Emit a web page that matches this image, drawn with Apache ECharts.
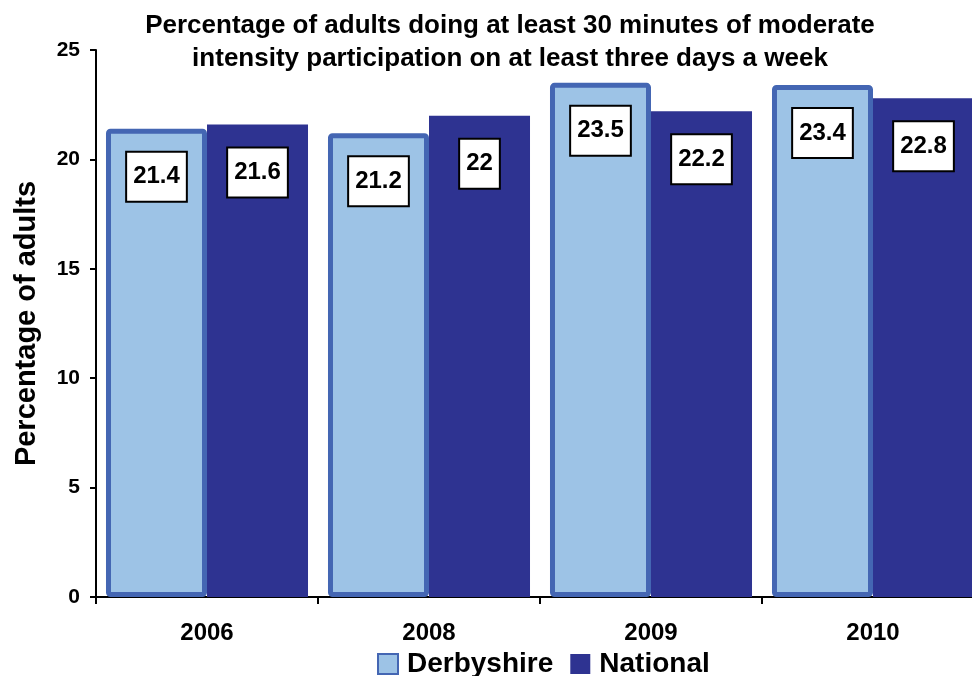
<!DOCTYPE html>
<html>
<head>
<meta charset="utf-8">
<script src="https://cdn.jsdelivr.net/npm/echarts@6/dist/echarts.min.js"></script>
<style>
  html, body { margin: 0; padding: 0; background: #fff; }
  #chart { width: 972px; height: 676px; }
</style>
</head>
<body>
<div id="chart"></div>
<script>
const categories = ['2006', '2008', '2009', '2010']
const derbyshire = [21.4, 21.2, 23.5, 23.4]
const national = [21.6, 22, 22.2, 22.8]
const yTicks = { min: 0, max: 25, interval: 5 }

const font = '"Liberation Sans", Arial, sans-serif'
const chart = echarts.init(document.getElementById('chart'))

const valueLabel = {
  show: true,
  position: 'insideTop',
  distance: 24,
  color: '#000',
  fontFamily: font,
  fontWeight: 'bold',
  fontSize: 24,
  backgroundColor: '#fff',
  borderColor: '#000',
  borderWidth: 2,
  padding: [12, 6]
}

const option = {
  animation: false,
  backgroundColor: '#fff',
  title: {
    text: 'Percentage of adults doing at least 30 minutes of moderate\nintensity participation on at least three days a week',
    left: 510,
    top: 9,
    padding: 0,
    textAlign: 'center',
    textStyle: {
      fontFamily: font,
      fontWeight: 'bold',
      fontSize: 26,
      lineHeight: 33,
      color: '#000'
    }
  },
  legend: {
    left: 372,
    top: 645,
    icon: 'rect',
    itemWidth: 20,
    itemHeight: 20,
    itemGap: 17,
    textStyle: {
      fontFamily: font,
      fontWeight: 'bold',
      fontSize: 28,
      color: '#000',
      padding: [0, 0, 0, 4]
    },
    data: ['Derbyshire', 'National']
  },
  grid: {
    left: 96,
    right: -12,
    top: 50,
    bottom: 79,
    outerBoundsMode: 'none'
  },
  xAxis: {
    type: 'category',
    data: categories,
    axisLine: { lineStyle: { color: '#000', width: 2 } },
    axisTick: { show: true, length: 7, lineStyle: { color: '#000', width: 2 } },
    axisLabel: {
      margin: 24,
      color: '#000',
      fontFamily: font,
      fontWeight: 'bold',
      fontSize: 24
    }
  },
  yAxis: {
    type: 'value',
    min: yTicks.min,
    max: yTicks.max,
    interval: yTicks.interval,
    name: 'Percentage of adults',
    nameLocation: 'middle',
    nameGap: 55,
    nameTextStyle: {
      fontFamily: font,
      fontWeight: 'bold',
      fontSize: 29,
      color: '#000'
    },
    splitLine: { show: false },
    axisLine: { show: true, lineStyle: { color: '#000', width: 2 } },
    axisTick: { show: true, length: 6, lineStyle: { color: '#000', width: 2 } },
    axisLabel: {
      margin: 16,
      color: '#000',
      fontFamily: font,
      fontWeight: 'bold',
      fontSize: 21
    }
  },
  series: [
    {
      name: 'Derbyshire',
      type: 'bar',
      data: derbyshire,
      barGap: 0,
      barCategoryGap: '9%',
      itemStyle: {
        color: '#9DC3E6',
        borderColor: '#4466B3',
        borderWidth: 5,
        borderRadius: 2
      },
      label: valueLabel
    },
    {
      name: 'National',
      type: 'bar',
      data: national,
      itemStyle: { color: '#2E3391' },
      label: valueLabel
    }
  ]
}

chart.setOption(option)
</script>
</body>
</html>
